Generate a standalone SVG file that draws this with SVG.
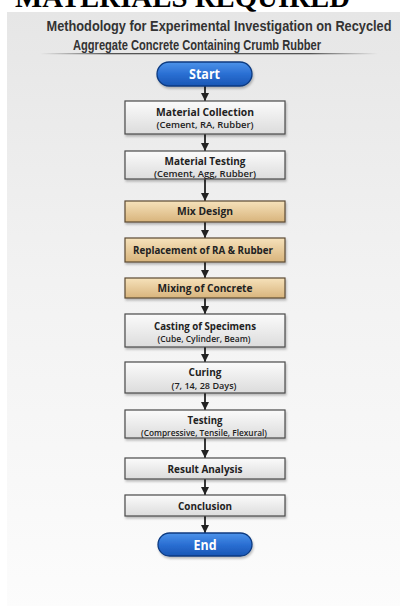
<svg xmlns="http://www.w3.org/2000/svg" width="404" height="606" viewBox="0 0 404 606">
<style>
.ttl{font-family:"Liberation Sans Narrow","Liberation Sans",Arial,sans-serif;font-weight:700;font-size:14px;fill:#333;text-anchor:middle}
.hd{font-family:"Liberation Serif","Times New Roman",serif;font-weight:700;font-size:29px;fill:#000}
.box{fill:url(#gGray);stroke:#4a4a4a;stroke-width:1.2;filter:url(#sh)}
.tan{fill:url(#gTan);stroke:#5a4a32;stroke-width:1.2;filter:url(#sh)}
.pill{fill:url(#gBlue);stroke:#0d3a80;stroke-width:1.3;filter:url(#sh)}
.t1{font-family:"Open Sans","Liberation Sans",sans-serif;font-weight:700;font-size:10.6px;fill:#222;text-anchor:middle}
.t2{font-family:"Open Sans","Liberation Sans",sans-serif;font-weight:600;font-size:9px;fill:#222;text-anchor:middle}
.s1{font-size:10.2px}
.s2{font-size:8.5px}
.tp{font-family:"Open Sans","Liberation Sans",sans-serif;font-weight:700;font-size:13.5px;fill:#fff;text-anchor:middle}
.ar{stroke:#222;stroke-width:1.8;fill:none;marker-end:url(#ah)}
</style>
<defs>
<linearGradient id="gPanel" x1="0" y1="0" x2="0" y2="1">
<stop offset="0" stop-color="#e6e6e6"/><stop offset="0.45" stop-color="#f2f2f2"/><stop offset="1" stop-color="#fcfcfc"/>
</linearGradient>
<linearGradient id="gGray" x1="0" y1="0" x2="0" y2="1">
<stop offset="0" stop-color="#fbfbfb"/><stop offset="1" stop-color="#dcdcdc"/>
</linearGradient>
<linearGradient id="gTan" x1="0" y1="0" x2="0" y2="1">
<stop offset="0" stop-color="#f6e2bb"/><stop offset="1" stop-color="#d8b47c"/>
</linearGradient>
<linearGradient id="gBlue" x1="0" y1="0" x2="0" y2="1">
<stop offset="0" stop-color="#4d93ea"/><stop offset="0.5" stop-color="#2a6fd3"/><stop offset="1" stop-color="#1a56b5"/>
</linearGradient>
<linearGradient id="gLine" x1="0" y1="0" x2="1" y2="0">
<stop offset="0" stop-color="#666" stop-opacity="0"/><stop offset="0.2" stop-color="#555"/><stop offset="0.8" stop-color="#555"/><stop offset="1" stop-color="#666" stop-opacity="0"/>
</linearGradient>
<filter id="sh" x="-10%" y="-20%" width="120%" height="160%">
<feDropShadow dx="1" dy="2" stdDeviation="1.2" flood-color="#000" flood-opacity="0.25"/>
</filter>
<marker id="ah" viewBox="0 0 10 10" refX="10" refY="5" markerWidth="8" markerHeight="8" markerUnits="userSpaceOnUse" orient="auto">
<path d="M0,0 L10,5 L0,10 z" fill="#222"/>
</marker>
</defs>
<rect x="0" y="0" width="404" height="606" fill="#fff"/>
<text class="hd" x="15" y="7" textLength="335" lengthAdjust="spacingAndGlyphs">MATERIALS REQUIRED</text>
<rect x="7" y="12" width="393" height="600" fill="url(#gPanel)"/>
<g id="title">
<text class="ttl" x="219" y="31" textLength="345" lengthAdjust="spacingAndGlyphs">Methodology for Experimental Investigation on Recycled</text>
<text class="ttl" x="197" y="50" textLength="248" lengthAdjust="spacingAndGlyphs">Aggregate Concrete Containing Crumb Rubber</text>
<rect x="40" y="53" width="338" height="1.3" fill="url(#gLine)"/>
</g>
<g id="connectors">
<line class="ar" x1="205" y1="86" x2="205" y2="101"/>
<line class="ar" x1="205" y1="134" x2="205" y2="151"/>
<line class="ar" x1="205" y1="179" x2="205" y2="201"/>
<line class="ar" x1="205" y1="222" x2="205" y2="238"/>
<line class="ar" x1="205" y1="262" x2="205" y2="278"/>
<line class="ar" x1="205" y1="298" x2="205" y2="314"/>
<line class="ar" x1="205" y1="347" x2="205" y2="362"/>
<line class="ar" x1="205" y1="393" x2="205" y2="410"/>
<line class="ar" x1="205" y1="438" x2="205" y2="458"/>
<line class="ar" x1="205" y1="479" x2="205" y2="495"/>
<line class="ar" x1="205" y1="516" x2="205" y2="533"/>
</g>
<g id="start">
<rect class="pill" x="157" y="62" width="95" height="24" rx="12"/>
<text class="tp" x="204.5" y="79" textLength="31" lengthAdjust="spacingAndGlyphs">Start</text>
</g>
<g id="n1">
<rect class="box" x="125" y="101" width="160" height="33"/>
<text class="t1" x="205" y="115.5" textLength="98" lengthAdjust="spacingAndGlyphs">Material Collection</text>
<text class="t2" x="205" y="128" textLength="97" lengthAdjust="spacingAndGlyphs">(Cement, RA, Rubber)</text>
</g>
<g id="n2">
<rect class="box" x="125" y="151" width="160" height="28"/>
<text class="t1 s1" x="205" y="164.8" textLength="81" lengthAdjust="spacingAndGlyphs">Material Testing</text>
<text class="t2 s2" x="205" y="176.9" textLength="102" lengthAdjust="spacingAndGlyphs">(Cement, Agg, Rubber)</text>
</g>
<g id="n3">
<rect class="tan" x="125" y="201" width="160" height="21"/>
<text class="t1" x="205" y="215" textLength="56" lengthAdjust="spacingAndGlyphs">Mix Design</text>
</g>
<g id="n4">
<rect class="tan" x="125" y="238" width="160" height="24"/>
<text class="t1" x="203" y="254" textLength="140" lengthAdjust="spacingAndGlyphs">Replacement of RA &amp; Rubber</text>
</g>
<g id="n5">
<rect class="tan" x="125" y="278" width="160" height="20"/>
<text class="t1" x="205" y="292" textLength="95" lengthAdjust="spacingAndGlyphs">Mixing of Concrete</text>
</g>
<g id="n6">
<rect class="box" x="125" y="314" width="160" height="33"/>
<text class="t1" x="205" y="329.5" textLength="102" lengthAdjust="spacingAndGlyphs">Casting of Specimens</text>
<text class="t2" x="204" y="341.8" textLength="93" lengthAdjust="spacingAndGlyphs">(Cube, Cylinder, Beam)</text>
</g>
<g id="n7">
<rect class="box" x="125" y="362" width="160" height="31"/>
<text class="t1" x="205" y="375.5" textLength="33" lengthAdjust="spacingAndGlyphs">Curing</text>
<text class="t2" x="204" y="388.5" textLength="65" lengthAdjust="spacingAndGlyphs">(7, 14, 28 Days)</text>
</g>
<g id="n8">
<rect class="box" x="125" y="410" width="160" height="28"/>
<text class="t1 s1" x="205" y="423.5" textLength="35" lengthAdjust="spacingAndGlyphs">Testing</text>
<text class="t2 s2" x="204" y="435.6" textLength="126" lengthAdjust="spacingAndGlyphs">(Compressive, Tensile, Flexural)</text>
</g>
<g id="n9">
<rect class="box" x="125" y="458" width="160" height="21"/>
<text class="t1" x="205" y="472.5" textLength="75" lengthAdjust="spacingAndGlyphs">Result Analysis</text>
</g>
<g id="n10">
<rect class="box" x="125" y="495" width="160" height="21"/>
<text class="t1" x="205" y="509.5" textLength="54" lengthAdjust="spacingAndGlyphs">Conclusion</text>
</g>
<g id="end">
<rect class="pill" x="158" y="533" width="94" height="23" rx="11.5"/>
<text class="tp" x="205" y="549.5" textLength="23" lengthAdjust="spacingAndGlyphs">End</text>
</g>
</svg>
